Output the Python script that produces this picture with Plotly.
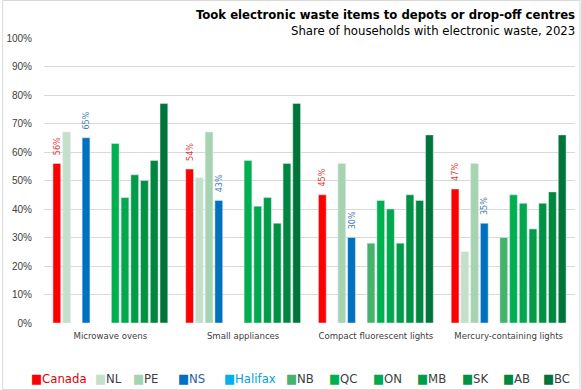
import plotly.graph_objects as go

categories = ["Microwave ovens", "Small appliances", "Compact fluorescent lights", "Mercury-containing lights"]
series_names = ["Canada", "NL", "PE", "NS", "Halifax", "NB", "QC", "ON", "MB", "SK", "AB", "BC"]
canada = [56, 54, 45, 47]
nl = [67, 51, None, 25]
pe = [None, 67, 56, 56]
ns = [65, 43, 30, 35]
halifax = [None, None, None, None]
nb = [None, None, 28, 30]
qc = [63, 57, 43, 45]
on = [44, 41, 40, 42]
mb = [52, 44, 28, 33]
sk = [50, 35, 45, 42]
ab = [57, 56, 43, 46]
bc = [77, 77, 66, 66]
series_values = [canada, nl, pe, ns, halifax, nb, qc, on, mb, sk, ab, bc]
y_ticks = list(range(0, 101, 10))
y_tick_labels = [f"{v}%" for v in y_ticks]

colors = ["#ff0000", "#c4e0c8", "#a6d3b0", "#0070c0", "#00b0f0", "#45b36b",
          "#00b050", "#00a84e", "#009c48", "#009243", "#00873f", "#00753a"]
legend_text_colors = ["#e00000", "#404040", "#404040", "#1f5fa8", "#00a0e0", "#404040",
                      "#404040", "#404040", "#404040", "#404040", "#404040", "#404040"]
label_colors = {"Canada": "#e03a3a", "NS": "#3f7bb8"}
legend_x_px = [27, 91, 129, 174, 221, 283, 326, 370, 414, 460, 501, 541]

FONT = "DejaVu Sans Condensed, DejaVu Sans, sans-serif"

fig = go.Figure()
for name, vals, col in zip(series_names, series_values, colors):
    if name in label_colors:
        txt = [f"\u00a0\u00a0{v}%" if v is not None else "" for v in vals]
        fig.add_trace(go.Bar(
            name=name, x=categories, y=vals, marker_color=col,
            text=txt, textposition="outside", textangle=-90, constraintext="none",
            textfont=dict(size=9, color=label_colors[name], family=FONT),
            cliponaxis=False, showlegend=False,
        ))
    else:
        fig.add_trace(go.Bar(name=name, x=categories, y=vals, marker_color=col, showlegend=False))

L, R, T, B = 42, 6, 38, 67
W, H = 581, 390
pw, ph = W - L - R, H - T - B


def px_x(x):
    return (x - L) / pw


def px_y(y):
    return (H - B - y) / ph


annotations = [
    dict(
        text="Took electronic waste items to depots or drop-off centres",
        xref="paper", yref="paper", x=px_x(577), y=px_y(15),
        xanchor="right", yanchor="middle", showarrow=False,
        font=dict(family=FONT, size=13, color="#000000", weight=700),
    ),
    dict(
        text="Share of households with electronic waste, 2023",
        xref="paper", yref="paper", x=px_x(577), y=px_y(31),
        xanchor="right", yanchor="middle", showarrow=False,
        font=dict(family=FONT, size=13, color="#000000"),
    ),
]
for name, col, tcol, lx in zip(series_names, colors, legend_text_colors, legend_x_px):
    annotations.append(dict(
        text=f"<span style='color:{col}'>\u25a0</span>{name}",
        xref="paper", yref="paper", x=px_x(lx), y=px_y(378),
        xanchor="left", yanchor="middle", showarrow=False,
        font=dict(family=FONT, size=13, color=tcol),
    ))

fig.update_layout(
    width=W, height=H,
    margin=dict(l=L, r=R, t=T, b=B),
    paper_bgcolor="white", plot_bgcolor="white",
    barmode="group", bargap=0.12, bargroupgap=0.2,
    showlegend=False,
    yaxis=dict(
        range=[0, 100], tickvals=y_ticks, ticktext=y_tick_labels,
        showgrid=True, gridcolor="#d9d9d9", gridwidth=1,
        zeroline=False, showline=False,
        tickfont=dict(family="Arial, sans-serif", size=10, color="#404040"),
        ticks="outside", ticklen=9, tickcolor="rgba(0,0,0,0)",
    ),
    xaxis=dict(
        showline=False, showgrid=False,
        tickfont=dict(family=FONT, size=9.5, color="#404040"),
        ticks="outside", ticklen=4, tickcolor="rgba(0,0,0,0)",
    ),
    annotations=annotations,
    shapes=[dict(
        type="rect", xref="paper", yref="paper",
        x0=px_x(0.5), x1=px_x(580), y0=px_y(389.5), y1=px_y(0.5),
        line=dict(color="#d9d9d9", width=1), fillcolor="rgba(0,0,0,0)", layer="below",
    )],
)

fig.write_html("out.html", config={"displayModeBar": False},
               post_script="document.body.style.margin='0';")
